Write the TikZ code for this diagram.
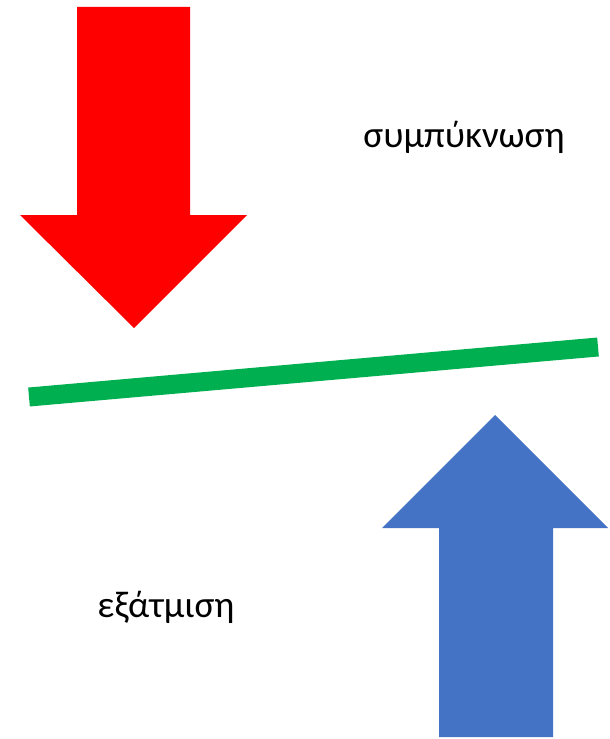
\documentclass[tikz,border=0pt]{standalone}
\usepackage{fontspec}
\setmainfont{Carlito}
\definecolor{condRed}{HTML}{FF0000}
\definecolor{evapBlue}{HTML}{4472C4}
\definecolor{surfGreen}{HTML}{00B050}
\begin{document}
\begin{tikzpicture}[
    x=1bp, y=-1bp,
    bigarrow/.style={draw=none},
    label/.style={font=\fontsize{37.5}{44}\selectfont, color=black, inner sep=0pt},
    surface/.style={draw=surfGreen, line width=19bp},
]
\useasboundingbox (0,0) rectangle (610,739);

% red arrow pointing down
\fill[bigarrow, condRed]
    (77,7) -- (190,7) -- (190,215) -- (247,215)
    -- (134,328) -- (20,215) -- (77,215) -- cycle;

% blue arrow pointing up
\fill[bigarrow, evapBlue]
    (439,737) -- (553,737) -- (553,528) -- (608,528)
    -- (495,415) -- (382,528) -- (439,528) -- cycle;

% slanted surface
\coordinate (surfL) at (29,397);
\coordinate (surfR) at (598,347);
\draw[surface] (surfL) -- (surfR);

\node[label] (cond) at (464,137) {συμπύκνωση};
\node[label] (evap) at (166,607) {εξάτμιση};

\end{tikzpicture}
\end{document}
